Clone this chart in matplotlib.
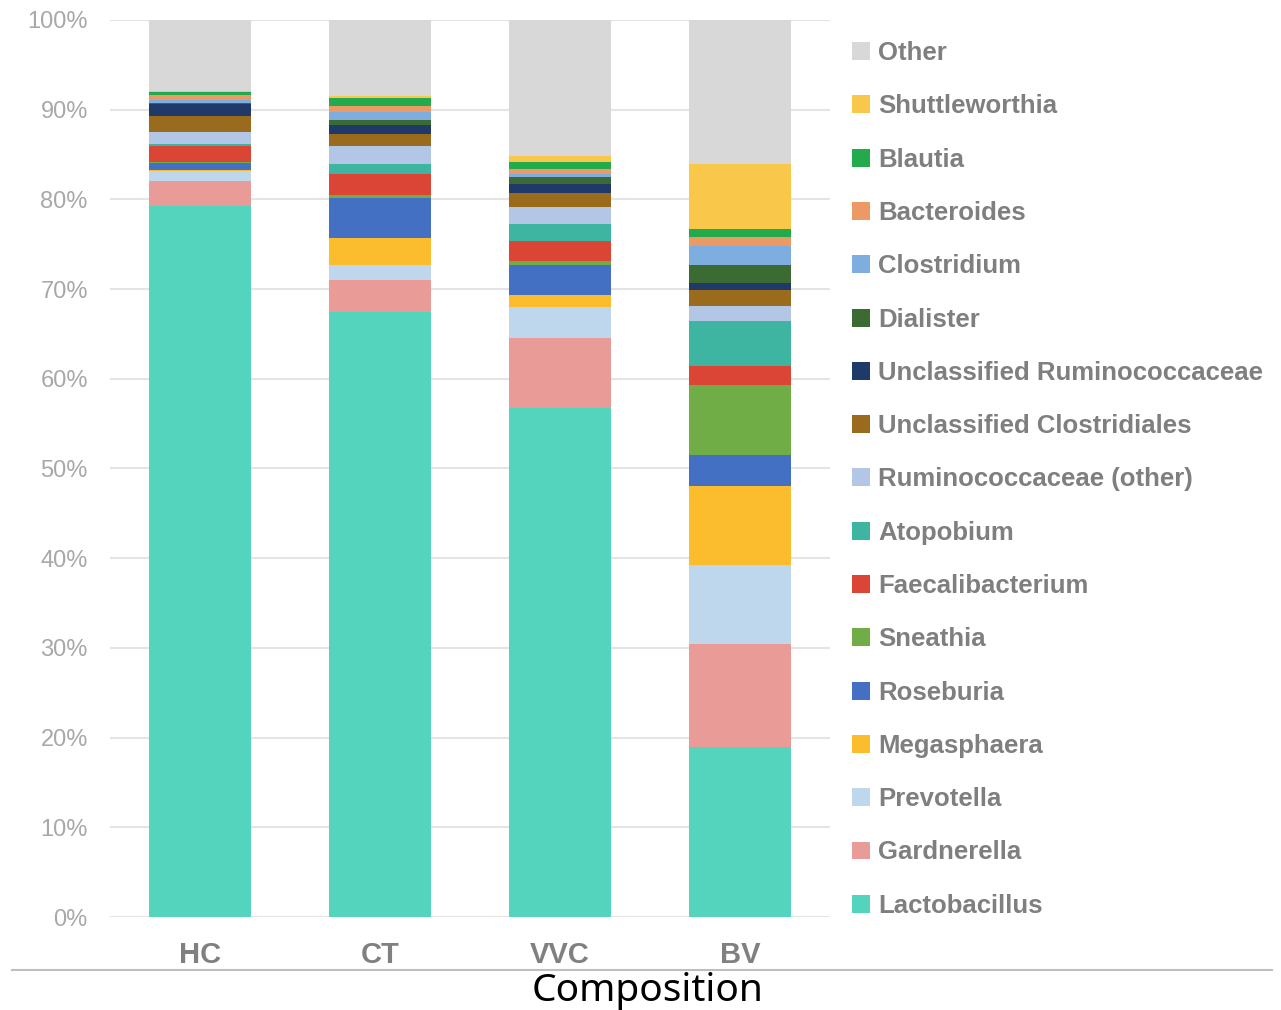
import matplotlib
matplotlib.use("Agg")
import matplotlib.pyplot as plt
from matplotlib.patches import Patch
from matplotlib.lines import Line2D
import numpy as np

groups = ["HC", "CT", "VVC", "BV"]

# relative abundance (%) per group, bottom of the stack first
lactobacillus = [79.3, 67.5, 56.7, 18.9]
gardnerella = [2.7, 3.5, 7.8, 11.5]
prevotella = [1.2, 1.7, 3.5, 8.8]
megasphaera = [0.1, 3.0, 1.3, 8.8]
roseburia = [0.8, 4.5, 3.4, 3.5]
sneathia = [0.1, 0.3, 0.4, 7.8]
faecalibacterium = [1.8, 2.3, 2.3, 2.1]
atopobium = [0.2, 1.1, 1.9, 5.0]
rumino_other = [1.3, 2.0, 1.8, 1.7]
uncl_clostridiales = [1.8, 1.4, 1.6, 1.8]
uncl_rumino = [1.3, 1.0, 1.0, 0.8]
dialister = [0.2, 0.6, 0.8, 2.0]
clostridium = [0.3, 0.8, 0.3, 2.1]
bacteroides = [0.5, 0.7, 0.6, 1.0]
blautia = [0.4, 0.9, 0.8, 0.9]
shuttleworthia = [0.1, 0.2, 0.6, 7.2]
other = [7.9, 8.5, 15.2, 16.1]

taxa = [
    ("Lactobacillus", lactobacillus, "#55d4bd"),
    ("Gardnerella", gardnerella, "#e89b97"),
    ("Prevotella", prevotella, "#bed7ed"),
    ("Megasphaera", megasphaera, "#fbbd2e"),
    ("Roseburia", roseburia, "#4470c4"),
    ("Sneathia", sneathia, "#70ad47"),
    ("Faecalibacterium", faecalibacterium, "#da4536"),
    ("Atopobium", atopobium, "#3db5a0"),
    ("Ruminococcaceae (other)", rumino_other, "#b3c6e6"),
    ("Unclassified Clostridiales", uncl_clostridiales, "#9b6b1d"),
    ("Unclassified Ruminococcaceae", uncl_rumino, "#1f3a68"),
    ("Dialister", dialister, "#3b6a32"),
    ("Clostridium", clostridium, "#7eaedf"),
    ("Bacteroides", bacteroides, "#eb9a66"),
    ("Blautia", blautia, "#23aa4c"),
    ("Shuttleworthia", shuttleworthia, "#f9c84a"),
    ("Other", other, "#d8d8d8"),
]

plt.rcParams["font.family"] = ["Liberation Sans", "DejaVu Sans"]

fig = plt.figure(figsize=(12.81, 10.10), dpi=100)
ax = fig.add_axes([110 / 1281, 1 - 917 / 1010, 720 / 1281, 897 / 1010])

x = np.arange(len(groups))
bottom = np.zeros(len(groups))
handles = []
for name, vals, col in taxa:
    ax.bar(x, vals, bottom=bottom, width=0.57, color=col, zorder=3)
    bottom += np.array(vals)
    handles.append(Patch(facecolor=col, edgecolor="none", label=name))

ax.set_xlim(-0.5, 3.5)
ax.set_ylim(0, 100)
ax.set_yticks(np.arange(0, 101, 10))
ax.set_yticklabels([f"{v}%" for v in range(0, 101, 10)])
ax.set_xticks(x)
ax.set_xticklabels(groups, fontsize=21, fontweight="bold", color="#808080")
ax.tick_params(axis="x", length=0, pad=17)
ax.tick_params(axis="y", length=0, pad=16, labelsize=17, labelcolor="#a8a8a8")
ax.grid(axis="y", color="#e4e4e4", linewidth=1.5, zorder=0)
for s in ax.spines.values():
    s.set_visible(False)

leg = fig.legend(handles=handles[::-1], loc="upper left",
                 bbox_to_anchor=(829 / 1281, 1 - 18 / 1010),
                 frameon=False, handlelength=0.7, handleheight=0.7,
                 handletextpad=0.32, labelspacing=1.14,
                 prop={"size": 18.5, "weight": "bold"})
for t in leg.get_texts():
    t.set_color("#7f7f7f")

# separator rule and caption below the chart
fig.add_artist(Line2D([12 / 1281, 1272 / 1281], [1 - 970 / 1010] * 2,
                      transform=fig.transFigure, color="#bfbfbf", linewidth=1.5))
fig.text(648 / 1281, 1 - 991 / 1010, "Composition", ha="center", va="center",
         fontsize=28, family=["Noto Sans", "DejaVu Sans"], color="black")

fig.savefig("out.png", dpi=100, facecolor="white")
